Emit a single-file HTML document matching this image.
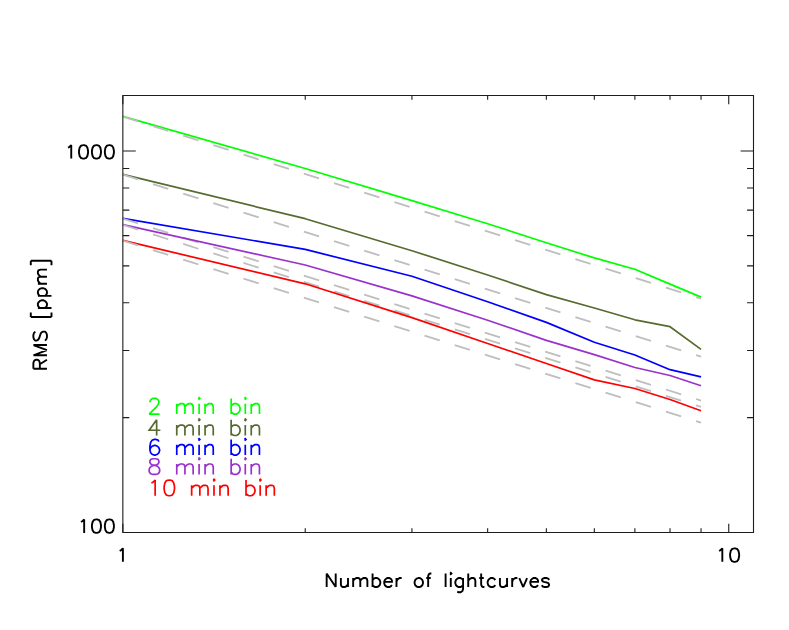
<!DOCTYPE html>
<html><head><meta charset="utf-8"><title>RMS vs Number of lightcurves</title>
<style>html,body{margin:0;padding:0;background:#fff;font-family:"Liberation Sans",sans-serif;}svg{display:block}</style>
</head><body>
<svg width="789" height="630" viewBox="0 0 789 630">
<rect width="789" height="630" fill="#fff"/>
<polyline points="122.85,116.40 305.24,168.55 411.94,200.60 487.64,223.70 546.36,242.80 594.33,257.90 634.89,269.30 670.03,284.10 701.03,297.10" fill="none" stroke="#00ff00" stroke-width="1.70" stroke-linejoin="round" stroke-linecap="butt"/>
<line x1="122.85" y1="116.65" x2="701.03" y2="298.67" stroke="#bebebe" stroke-width="1.80" stroke-dasharray="15.95 15.68" stroke-dashoffset="0"/>
<polyline points="122.85,174.40 305.24,218.70 411.94,250.70 487.64,275.00 546.36,294.60 594.33,308.00 634.89,319.80 670.03,326.70 701.03,349.40" fill="none" stroke="#556b2f" stroke-width="1.70" stroke-linejoin="round" stroke-linecap="butt"/>
<line x1="122.85" y1="174.65" x2="701.03" y2="356.67" stroke="#bebebe" stroke-width="1.80" stroke-dasharray="15.95 15.68" stroke-dashoffset="0"/>
<polyline points="122.85,218.30 305.24,249.40 411.94,276.30 487.64,301.80 546.36,322.40 594.33,342.20 634.89,355.00 670.03,369.70 701.03,376.80" fill="none" stroke="#0000ff" stroke-width="1.70" stroke-linejoin="round" stroke-linecap="butt"/>
<line x1="122.85" y1="218.55" x2="701.03" y2="400.57" stroke="#bebebe" stroke-width="1.80" stroke-dasharray="15.95 15.68" stroke-dashoffset="0"/>
<polyline points="122.85,224.70 305.24,265.00 411.94,295.90 487.64,320.20 546.36,340.40 594.33,354.60 634.89,367.50 670.03,375.50 701.03,385.80" fill="none" stroke="#9932cc" stroke-width="1.70" stroke-linejoin="round" stroke-linecap="butt"/>
<line x1="122.85" y1="224.95" x2="701.03" y2="406.97" stroke="#bebebe" stroke-width="1.80" stroke-dasharray="15.95 15.68" stroke-dashoffset="0"/>
<polyline points="122.85,240.40 305.24,283.80 411.94,317.60 487.64,343.50 546.36,363.50 594.33,379.90 634.89,388.50 670.03,399.50 701.03,410.70" fill="none" stroke="#ff0000" stroke-width="1.70" stroke-linejoin="round" stroke-linecap="butt"/>
<line x1="122.85" y1="240.65" x2="701.03" y2="422.67" stroke="#bebebe" stroke-width="1.80" stroke-dasharray="15.95 15.68" stroke-dashoffset="0"/>
<path d="M122.85 95.50 H753.50 V532.50 H122.85 Z M305.24 95.50v4.35 M305.24 532.50v-4.35 M411.94 95.50v4.35 M411.94 532.50v-4.35 M487.64 95.50v4.35 M487.64 532.50v-4.35 M546.36 95.50v4.35 M546.36 532.50v-4.35 M594.33 95.50v4.35 M594.33 532.50v-4.35 M634.89 95.50v4.35 M634.89 532.50v-4.35 M670.03 95.50v4.35 M670.03 532.50v-4.35 M701.03 95.50v4.35 M701.03 532.50v-4.35 M728.75 95.50v8.70 M728.75 532.50v-8.70 M122.85 417.66h6.45 M753.50 417.66h-6.45 M122.85 350.48h6.45 M753.50 350.48h-6.45 M122.85 302.81h6.45 M753.50 302.81h-6.45 M122.85 265.84h6.45 M753.50 265.84h-6.45 M122.85 235.64h6.45 M753.50 235.64h-6.45 M122.85 210.10h6.45 M753.50 210.10h-6.45 M122.85 187.97h6.45 M753.50 187.97h-6.45 M122.85 168.46h6.45 M753.50 168.46h-6.45 M122.85 151.00h12.90 M753.50 151.00h-12.90" fill="none" stroke="#1c1c1c" stroke-width="1.10" stroke-linecap="butt" stroke-linejoin="miter"/>
<path d="M122.85 95.50v8.70 M122.85 532.50v-8.70 M122.85 532.50h12.90 M753.50 532.50h-12.90" fill="none" stroke="#1c1c1c" stroke-width="1.10" stroke-linecap="butt"/>
<path transform="translate(122.25 561.85) translate(-6.46 0)" d="M3.88 -10.93 L5.17 -11.57 L7.11 -13.50 L7.11 0.00" fill="none" stroke="#000" stroke-width="1.90" stroke-linecap="butt" stroke-linejoin="miter" stroke-miterlimit="2.4"/>
<path transform="translate(728.15 561.85) translate(-12.93 0)" d="M3.88 -10.93 L5.17 -11.57 L7.11 -13.50 L7.11 0.00 M18.75 -13.50 L16.81 -12.86 L15.52 -10.93 L14.87 -7.72 L14.87 -5.79 L15.52 -2.57 L16.81 -0.64 L18.75 0.00 L20.04 0.00 L21.98 -0.64 L23.27 -2.57 L23.92 -5.79 L23.92 -7.72 L23.27 -10.93 L21.98 -12.86 L20.04 -13.50 L18.75 -13.50" fill="none" stroke="#000" stroke-width="1.90" stroke-linecap="butt" stroke-linejoin="miter" stroke-miterlimit="2.4"/>
<path transform="translate(115.85 158.60) translate(-51.72 0)" d="M3.88 -10.93 L5.17 -11.57 L7.11 -13.50 L7.11 0.00 M18.75 -13.50 L16.81 -12.86 L15.52 -10.93 L14.87 -7.72 L14.87 -5.79 L15.52 -2.57 L16.81 -0.64 L18.75 0.00 L20.04 0.00 L21.98 -0.64 L23.27 -2.57 L23.92 -5.79 L23.92 -7.72 L23.27 -10.93 L21.98 -12.86 L20.04 -13.50 L18.75 -13.50 M31.68 -13.50 L29.74 -12.86 L28.45 -10.93 L27.80 -7.72 L27.80 -5.79 L28.45 -2.57 L29.74 -0.64 L31.68 0.00 L32.97 0.00 L34.91 -0.64 L36.20 -2.57 L36.85 -5.79 L36.85 -7.72 L36.20 -10.93 L34.91 -12.86 L32.97 -13.50 L31.68 -13.50 M44.61 -13.50 L42.67 -12.86 L41.38 -10.93 L40.73 -7.72 L40.73 -5.79 L41.38 -2.57 L42.67 -0.64 L44.61 0.00 L45.90 0.00 L47.84 -0.64 L49.13 -2.57 L49.78 -5.79 L49.78 -7.72 L49.13 -10.93 L47.84 -12.86 L45.90 -13.50 L44.61 -13.50" fill="none" stroke="#000" stroke-width="1.90" stroke-linecap="butt" stroke-linejoin="miter" stroke-miterlimit="2.4"/>
<path transform="translate(115.85 532.90) translate(-38.79 0)" d="M3.88 -10.93 L5.17 -11.57 L7.11 -13.50 L7.11 0.00 M18.75 -13.50 L16.81 -12.86 L15.52 -10.93 L14.87 -7.72 L14.87 -5.79 L15.52 -2.57 L16.81 -0.64 L18.75 0.00 L20.04 0.00 L21.98 -0.64 L23.27 -2.57 L23.92 -5.79 L23.92 -7.72 L23.27 -10.93 L21.98 -12.86 L20.04 -13.50 L18.75 -13.50 M31.68 -13.50 L29.74 -12.86 L28.45 -10.93 L27.80 -7.72 L27.80 -5.79 L28.45 -2.57 L29.74 -0.64 L31.68 0.00 L32.97 0.00 L34.91 -0.64 L36.20 -2.57 L36.85 -5.79 L36.85 -7.72 L36.20 -10.93 L34.91 -12.86 L32.97 -13.50 L31.68 -13.50" fill="none" stroke="#000" stroke-width="1.90" stroke-linecap="butt" stroke-linejoin="miter" stroke-miterlimit="2.4"/>
<path transform="translate(437.53 587.05) translate(-113.46 0)" d="M2.59 -13.50 L2.59 0.00 M2.59 -13.50 L11.64 0.00 M11.64 -13.50 L11.64 0.00 M16.81 -9.00 L16.81 -2.57 L17.46 -0.64 L18.75 0.00 L20.69 0.00 L21.98 -0.64 L23.92 -2.57 M23.92 -9.00 L23.92 0.00 M29.09 -9.00 L29.09 0.00 M29.09 -6.43 L31.03 -8.36 L32.32 -9.00 L34.26 -9.00 L35.56 -8.36 L36.20 -6.43 L36.20 0.00 M36.20 -6.43 L38.14 -8.36 L39.44 -9.00 L41.38 -9.00 L42.67 -8.36 L43.32 -6.43 L43.32 0.00 M48.49 -13.50 L48.49 0.00 M48.49 -7.07 L49.78 -8.36 L51.07 -9.00 L53.01 -9.00 L54.31 -8.36 L55.60 -7.07 L56.25 -5.14 L56.25 -3.86 L55.60 -1.93 L54.31 -0.64 L53.01 0.00 L51.07 0.00 L49.78 -0.64 L48.49 -1.93 M60.12 -5.14 L67.88 -5.14 L67.88 -6.43 L67.24 -7.72 L66.59 -8.36 L65.30 -9.00 L63.36 -9.00 L62.06 -8.36 L60.77 -7.07 L60.12 -5.14 L60.12 -3.86 L60.77 -1.93 L62.06 -0.64 L63.36 0.00 L65.30 0.00 L66.59 -0.64 L67.88 -1.93 M72.41 -9.00 L72.41 0.00 M72.41 -5.14 L73.05 -7.07 L74.35 -8.36 L75.64 -9.00 L77.58 -9.00 M93.74 -9.00 L92.45 -8.36 L91.16 -7.07 L90.51 -5.14 L90.51 -3.86 L91.16 -1.93 L92.45 -0.64 L93.74 0.00 L95.68 0.00 L96.97 -0.64 L98.27 -1.93 L98.91 -3.86 L98.91 -5.14 L98.27 -7.07 L96.97 -8.36 L95.68 -9.00 L93.74 -9.00 M107.32 -13.50 L106.03 -13.50 L104.73 -12.86 L104.09 -10.93 L104.09 0.00 M102.15 -9.00 L106.67 -9.00 M121.54 -13.50 L121.54 0.00 M126.07 -13.50 L126.71 -12.86 L127.36 -13.50 L126.71 -14.15 L126.07 -13.50 M126.71 -9.00 L126.71 0.00 M139.00 -9.00 L139.00 1.93 L138.35 3.86 L137.70 4.50 L136.41 5.14 L134.47 5.14 L133.18 4.50 M139.00 -7.07 L137.70 -8.36 L136.41 -9.00 L134.47 -9.00 L133.18 -8.36 L131.89 -7.07 L131.24 -5.14 L131.24 -3.86 L131.89 -1.93 L133.18 -0.64 L134.47 0.00 L136.41 0.00 L137.70 -0.64 L139.00 -1.93 M144.17 -13.50 L144.17 0.00 M144.17 -6.43 L146.11 -8.36 L147.40 -9.00 L149.34 -9.00 L150.63 -8.36 L151.28 -6.43 L151.28 0.00 M157.10 -13.50 L157.10 -2.57 L157.75 -0.64 L159.04 0.00 L160.33 0.00 M155.16 -9.00 L159.69 -9.00 M171.32 -7.07 L170.03 -8.36 L168.74 -9.00 L166.80 -9.00 L165.50 -8.36 L164.21 -7.07 L163.56 -5.14 L163.56 -3.86 L164.21 -1.93 L165.50 -0.64 L166.80 0.00 L168.74 0.00 L170.03 -0.64 L171.32 -1.93 M175.85 -9.00 L175.85 -2.57 L176.49 -0.64 L177.79 0.00 L179.73 0.00 L181.02 -0.64 L182.96 -2.57 M182.96 -9.00 L182.96 0.00 M188.13 -9.00 L188.13 0.00 M188.13 -5.14 L188.78 -7.07 L190.07 -8.36 L191.36 -9.00 L193.30 -9.00 M195.24 -9.00 L199.12 0.00 M203.00 -9.00 L199.12 0.00 M206.23 -5.14 L213.99 -5.14 L213.99 -6.43 L213.34 -7.72 L212.70 -8.36 L211.41 -9.00 L209.47 -9.00 L208.17 -8.36 L206.88 -7.07 L206.23 -5.14 L206.23 -3.86 L206.88 -1.93 L208.17 -0.64 L209.47 0.00 L211.41 0.00 L212.70 -0.64 L213.99 -1.93 M224.98 -7.07 L224.34 -8.36 L222.40 -9.00 L220.46 -9.00 L218.52 -8.36 L217.87 -7.07 L218.52 -5.79 L219.81 -5.14 L223.04 -4.50 L224.34 -3.86 L224.98 -2.57 L224.98 -1.93 L224.34 -0.64 L222.40 0.00 L220.46 0.00 L218.52 -0.64 L217.87 -1.93" fill="none" stroke="#000" stroke-width="1.90" stroke-linecap="butt" stroke-linejoin="miter" stroke-miterlimit="2.4"/>
<path transform="translate(46.95 314.70) rotate(-90) translate(-56.55 0)" d="M2.56 -13.58 L2.56 0.00 M2.56 -13.58 L8.31 -13.58 L10.22 -12.93 L10.86 -12.28 L11.50 -10.99 L11.50 -9.70 L10.86 -8.40 L10.22 -7.76 L8.31 -7.11 L2.56 -7.11 M7.03 -7.11 L11.50 0.00 M15.97 -13.58 L15.97 0.00 M15.97 -13.58 L21.09 0.00 M26.20 -13.58 L21.09 0.00 M26.20 -13.58 L26.20 0.00 M39.62 -11.64 L38.34 -12.93 L36.42 -13.58 L33.87 -13.58 L31.95 -12.93 L30.67 -11.64 L30.67 -10.34 L31.31 -9.05 L31.95 -8.40 L33.23 -7.76 L37.06 -6.46 L38.34 -5.82 L38.98 -5.17 L39.62 -3.88 L39.62 -1.94 L38.34 -0.65 L36.42 0.00 L33.87 0.00 L31.95 -0.65 L30.67 -1.94 M54.31 -16.16 L54.31 4.53 M54.31 -16.16 L58.79 -16.16 M54.31 4.53 L58.79 4.53 M63.26 -9.05 L63.26 4.53 M63.26 -7.11 L64.54 -8.40 L65.82 -9.05 L67.73 -9.05 L69.01 -8.40 L70.29 -7.11 L70.93 -5.17 L70.93 -3.88 L70.29 -1.94 L69.01 -0.65 L67.73 0.00 L65.82 0.00 L64.54 -0.65 L63.26 -1.94 M75.40 -9.05 L75.40 4.53 M75.40 -7.11 L76.68 -8.40 L77.96 -9.05 L79.88 -9.05 L81.15 -8.40 L82.43 -7.11 L83.07 -5.17 L83.07 -3.88 L82.43 -1.94 L81.15 -0.65 L79.88 0.00 L77.96 0.00 L76.68 -0.65 L75.40 -1.94 M87.54 -9.05 L87.54 0.00 M87.54 -6.46 L89.46 -8.40 L90.74 -9.05 L92.66 -9.05 L93.93 -8.40 L94.57 -6.46 L94.57 0.00 M94.57 -6.46 L96.49 -8.40 L97.77 -9.05 L99.68 -9.05 L100.96 -8.40 L101.60 -6.46 L101.60 0.00 M110.55 -16.16 L110.55 4.53 M106.07 -16.16 L110.55 -16.16 M106.07 4.53 L110.55 4.53" fill="none" stroke="#000" stroke-width="1.90" stroke-linecap="butt" stroke-linejoin="miter" stroke-miterlimit="2.4"/>
<path transform="translate(146.95 414.10) translate(0.00 0)" d="M2.98 -11.97 L2.98 -12.72 L3.73 -14.21 L4.47 -14.96 L5.96 -15.71 L8.94 -15.71 L10.43 -14.96 L11.18 -14.21 L11.92 -12.72 L11.92 -11.22 L11.18 -9.72 L9.69 -7.48 L2.23 0.00 L12.66 0.00 M29.80 -10.47 L29.80 0.00 M29.80 -7.48 L32.03 -9.72 L33.52 -10.47 L35.76 -10.47 L37.25 -9.72 L37.99 -7.48 L37.99 0.00 M37.99 -7.48 L40.23 -9.72 L41.72 -10.47 L43.95 -10.47 L45.45 -9.72 L46.19 -7.48 L46.19 0.00 M51.41 -15.71 L52.15 -14.96 L52.90 -15.71 L52.15 -16.46 L51.41 -15.71 M52.15 -10.47 L52.15 0.00 M58.11 -10.47 L58.11 0.00 M58.11 -7.48 L60.34 -9.72 L61.84 -10.47 L64.07 -10.47 L65.56 -9.72 L66.30 -7.48 L66.30 0.00 M84.19 -15.71 L84.19 0.00 M84.19 -8.23 L85.67 -9.72 L87.17 -10.47 L89.40 -10.47 L90.89 -9.72 L92.38 -8.23 L93.12 -5.98 L93.12 -4.49 L92.38 -2.24 L90.89 -0.75 L89.40 0.00 L87.17 0.00 L85.67 -0.75 L84.19 -2.24 M97.59 -15.71 L98.34 -14.96 L99.08 -15.71 L98.34 -16.46 L97.59 -15.71 M98.34 -10.47 L98.34 0.00 M104.30 -10.47 L104.30 0.00 M104.30 -7.48 L106.53 -9.72 L108.03 -10.47 L110.26 -10.47 L111.75 -9.72 L112.50 -7.48 L112.50 0.00" fill="none" stroke="#00ff00" stroke-width="1.70" stroke-linecap="butt" stroke-linejoin="miter" stroke-miterlimit="2.4"/>
<path transform="translate(146.95 435.50) translate(0.00 0)" d="M9.69 -15.71 L2.23 -5.24 L13.41 -5.24 M9.69 -15.71 L9.69 0.00 M29.80 -10.47 L29.80 0.00 M29.80 -7.48 L32.03 -9.72 L33.52 -10.47 L35.76 -10.47 L37.25 -9.72 L37.99 -7.48 L37.99 0.00 M37.99 -7.48 L40.23 -9.72 L41.72 -10.47 L43.95 -10.47 L45.45 -9.72 L46.19 -7.48 L46.19 0.00 M51.41 -15.71 L52.15 -14.96 L52.90 -15.71 L52.15 -16.46 L51.41 -15.71 M52.15 -10.47 L52.15 0.00 M58.11 -10.47 L58.11 0.00 M58.11 -7.48 L60.34 -9.72 L61.84 -10.47 L64.07 -10.47 L65.56 -9.72 L66.30 -7.48 L66.30 0.00 M84.19 -15.71 L84.19 0.00 M84.19 -8.23 L85.67 -9.72 L87.17 -10.47 L89.40 -10.47 L90.89 -9.72 L92.38 -8.23 L93.12 -5.98 L93.12 -4.49 L92.38 -2.24 L90.89 -0.75 L89.40 0.00 L87.17 0.00 L85.67 -0.75 L84.19 -2.24 M97.59 -15.71 L98.34 -14.96 L99.08 -15.71 L98.34 -16.46 L97.59 -15.71 M98.34 -10.47 L98.34 0.00 M104.30 -10.47 L104.30 0.00 M104.30 -7.48 L106.53 -9.72 L108.03 -10.47 L110.26 -10.47 L111.75 -9.72 L112.50 -7.48 L112.50 0.00" fill="none" stroke="#556b2f" stroke-width="1.70" stroke-linecap="butt" stroke-linejoin="miter" stroke-miterlimit="2.4"/>
<path transform="translate(146.95 455.10) translate(0.00 0)" d="M11.92 -13.46 L11.18 -14.96 L8.94 -15.71 L7.45 -15.71 L5.21 -14.96 L3.73 -12.72 L2.98 -8.98 L2.98 -5.24 L3.73 -2.24 L5.21 -0.75 L7.45 0.00 L8.20 0.00 L10.43 -0.75 L11.92 -2.24 L12.66 -4.49 L12.66 -5.24 L11.92 -7.48 L10.43 -8.98 L8.20 -9.72 L7.45 -9.72 L5.21 -8.98 L3.73 -7.48 L2.98 -5.24 M29.80 -10.47 L29.80 0.00 M29.80 -7.48 L32.03 -9.72 L33.52 -10.47 L35.76 -10.47 L37.25 -9.72 L37.99 -7.48 L37.99 0.00 M37.99 -7.48 L40.23 -9.72 L41.72 -10.47 L43.95 -10.47 L45.45 -9.72 L46.19 -7.48 L46.19 0.00 M51.41 -15.71 L52.15 -14.96 L52.90 -15.71 L52.15 -16.46 L51.41 -15.71 M52.15 -10.47 L52.15 0.00 M58.11 -10.47 L58.11 0.00 M58.11 -7.48 L60.34 -9.72 L61.84 -10.47 L64.07 -10.47 L65.56 -9.72 L66.30 -7.48 L66.30 0.00 M84.19 -15.71 L84.19 0.00 M84.19 -8.23 L85.67 -9.72 L87.17 -10.47 L89.40 -10.47 L90.89 -9.72 L92.38 -8.23 L93.12 -5.98 L93.12 -4.49 L92.38 -2.24 L90.89 -0.75 L89.40 0.00 L87.17 0.00 L85.67 -0.75 L84.19 -2.24 M97.59 -15.71 L98.34 -14.96 L99.08 -15.71 L98.34 -16.46 L97.59 -15.71 M98.34 -10.47 L98.34 0.00 M104.30 -10.47 L104.30 0.00 M104.30 -7.48 L106.53 -9.72 L108.03 -10.47 L110.26 -10.47 L111.75 -9.72 L112.50 -7.48 L112.50 0.00" fill="none" stroke="#0000ff" stroke-width="1.70" stroke-linecap="butt" stroke-linejoin="miter" stroke-miterlimit="2.4"/>
<path transform="translate(146.95 474.45) translate(0.00 0)" d="M5.96 -15.71 L3.73 -14.96 L2.98 -13.46 L2.98 -11.97 L3.73 -10.47 L5.21 -9.72 L8.20 -8.98 L10.43 -8.23 L11.92 -6.73 L12.66 -5.24 L12.66 -2.99 L11.92 -1.50 L11.18 -0.75 L8.94 0.00 L5.96 0.00 L3.73 -0.75 L2.98 -1.50 L2.23 -2.99 L2.23 -5.24 L2.98 -6.73 L4.47 -8.23 L6.71 -8.98 L9.69 -9.72 L11.18 -10.47 L11.92 -11.97 L11.92 -13.46 L11.18 -14.96 L8.94 -15.71 L5.96 -15.71 M29.80 -10.47 L29.80 0.00 M29.80 -7.48 L32.03 -9.72 L33.52 -10.47 L35.76 -10.47 L37.25 -9.72 L37.99 -7.48 L37.99 0.00 M37.99 -7.48 L40.23 -9.72 L41.72 -10.47 L43.95 -10.47 L45.45 -9.72 L46.19 -7.48 L46.19 0.00 M51.41 -15.71 L52.15 -14.96 L52.90 -15.71 L52.15 -16.46 L51.41 -15.71 M52.15 -10.47 L52.15 0.00 M58.11 -10.47 L58.11 0.00 M58.11 -7.48 L60.34 -9.72 L61.84 -10.47 L64.07 -10.47 L65.56 -9.72 L66.30 -7.48 L66.30 0.00 M84.19 -15.71 L84.19 0.00 M84.19 -8.23 L85.67 -9.72 L87.17 -10.47 L89.40 -10.47 L90.89 -9.72 L92.38 -8.23 L93.12 -5.98 L93.12 -4.49 L92.38 -2.24 L90.89 -0.75 L89.40 0.00 L87.17 0.00 L85.67 -0.75 L84.19 -2.24 M97.59 -15.71 L98.34 -14.96 L99.08 -15.71 L98.34 -16.46 L97.59 -15.71 M98.34 -10.47 L98.34 0.00 M104.30 -10.47 L104.30 0.00 M104.30 -7.48 L106.53 -9.72 L108.03 -10.47 L110.26 -10.47 L111.75 -9.72 L112.50 -7.48 L112.50 0.00" fill="none" stroke="#9932cc" stroke-width="1.70" stroke-linecap="butt" stroke-linejoin="miter" stroke-miterlimit="2.4"/>
<path transform="translate(146.95 495.75) translate(0.00 0)" d="M4.47 -12.72 L5.96 -13.46 L8.20 -15.71 L8.20 0.00 M21.61 -15.71 L19.37 -14.96 L17.88 -12.72 L17.14 -8.98 L17.14 -6.73 L17.88 -2.99 L19.37 -0.75 L21.61 0.00 L23.09 0.00 L25.33 -0.75 L26.82 -2.99 L27.57 -6.73 L27.57 -8.98 L26.82 -12.72 L25.33 -14.96 L23.09 -15.71 L21.61 -15.71 M44.70 -10.47 L44.70 0.00 M44.70 -7.48 L46.94 -9.72 L48.42 -10.47 L50.66 -10.47 L52.15 -9.72 L52.90 -7.48 L52.90 0.00 M52.90 -7.48 L55.13 -9.72 L56.62 -10.47 L58.85 -10.47 L60.34 -9.72 L61.09 -7.48 L61.09 0.00 M66.30 -15.71 L67.05 -14.96 L67.80 -15.71 L67.05 -16.46 L66.30 -15.71 M67.05 -10.47 L67.05 0.00 M73.01 -10.47 L73.01 0.00 M73.01 -7.48 L75.25 -9.72 L76.73 -10.47 L78.97 -10.47 L80.46 -9.72 L81.20 -7.48 L81.20 0.00 M99.08 -15.71 L99.08 0.00 M99.08 -8.23 L100.58 -9.72 L102.06 -10.47 L104.30 -10.47 L105.79 -9.72 L107.28 -8.23 L108.03 -5.98 L108.03 -4.49 L107.28 -2.24 L105.79 -0.75 L104.30 0.00 L102.06 0.00 L100.58 -0.75 L99.08 -2.24 M112.50 -15.71 L113.24 -14.96 L113.98 -15.71 L113.24 -16.46 L112.50 -15.71 M113.24 -10.47 L113.24 0.00 M119.20 -10.47 L119.20 0.00 M119.20 -7.48 L121.44 -9.72 L122.92 -10.47 L125.16 -10.47 L126.65 -9.72 L127.39 -7.48 L127.39 0.00" fill="none" stroke="#ff0000" stroke-width="1.70" stroke-linecap="butt" stroke-linejoin="miter" stroke-miterlimit="2.4"/>
</svg>
</body></html>
